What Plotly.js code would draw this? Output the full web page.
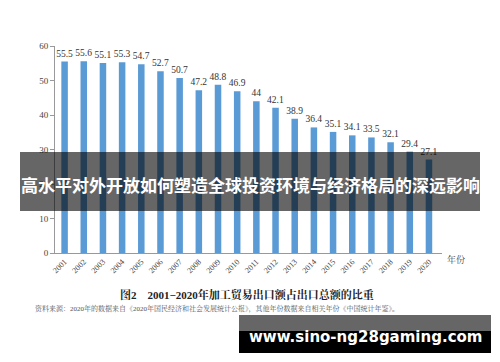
<!DOCTYPE html>
<html><head><meta charset="utf-8">
<script src="https://cdn.plot.ly/plotly-3.0.1.min.js"></script>
<style>html,body{margin:0;padding:0;background:#fff;}#chart{width:500px;height:362px;}</style>
</head><body><div id="chart"></div>
<script>
const years = ['2001','2002','2003','2004','2005','2006','2007','2008','2009','2010','2011','2012','2013','2014','2015','2016','2017','2018','2019','2020'];
const shares = [55.5,55.6,55.1,55.3,54.7,52.7,50.7,47.2,48.8,46.9,44,42.1,38.9,36.4,35.1,34.1,33.5,32.1,29.4,27.1];
const yTicks = [0,10,20,30,40,50,60];
const captionText = '图2　2001−2020年加工贸易出口额占出口总额的比重';
const sourceText = '资料来源：2020年的数据来自《2020年国民经济和社会发展统计公报》，其他年份数据来自相关年份《中国统计年鉴》。';
const bannerText = '高水平对外开放如何塑造全球投资环境与经济格局的深远影响';
const watermarkText = 'www.sino-ng28gaming.com';
const xUnitLabel = '年份';

const serif = '"Liberation Serif", "Noto Serif CJK SC", "Noto Sans CJK SC", serif';
const W = 500, H = 362, L = 55, R = 442, T = 46, B = 253;
const px = x => (x - L) / (R - L);
const py = y => (B - y) / (B - T);

const trace = {
  type: 'bar', x: years, y: shares,
  marker: {color: '#5b9bd5'},
  text: shares.map(String), textposition: 'outside', cliponaxis: false,
  constraintext: 'none',
  textfont: {family: serif, size: 9.5, color: '#333'},
  hoverinfo: 'skip'
};

const layout = {
  width: W, height: H,
  margin: {l: L, r: W - R, t: T, b: H - B},
  paper_bgcolor: '#fff', plot_bgcolor: '#fff',
  showlegend: false,
  bargap: 0.66,
  xaxis: {
    type: 'category', range: [-0.5, 19.68],
    tickangle: -45, tickfont: {family: serif, size: 8, color: '#444'},
    showline: true, linecolor: '#999', linewidth: 1,
    ticks: '', showgrid: false, zeroline: false, fixedrange: true
  },
  yaxis: {
    range: [0, 60], tickvals: yTicks,
    tickfont: {family: serif, size: 9, color: '#444'},
    showline: true, linecolor: '#999', linewidth: 1,
    ticks: 'outside', ticklen: 4, tickcolor: '#999',
    showgrid: false, zeroline: false, fixedrange: true
  },
  shapes: [
    {type: 'rect', xref: 'paper', yref: 'paper', layer: 'above',
     x0: px(20), x1: px(480), y0: py(211), y1: py(152),
     fillcolor: 'rgba(0,0,0,0.6)', line: {width: 0}},
    {type: 'rect', xref: 'paper', yref: 'paper', layer: 'above',
     x0: px(239), x1: px(491), y0: py(353), y1: py(315),
     fillcolor: 'rgba(0,0,0,0.6)', line: {width: 0}},
    {type: 'rect', xref: 'paper', yref: 'paper', layer: 'above',
     x0: px(239), x1: px(491), y0: py(353), y1: py(331),
     fillcolor: '#000', line: {width: 0}}
  ],
  annotations: [
    {text: xUnitLabel, xref: 'paper', yref: 'paper', x: px(445), y: py(259),
     xanchor: 'left', yanchor: 'middle', showarrow: false,
     font: {family: serif, size: 9, color: '#444'}},
    {text: '<b>' + captionText + '</b>', xref: 'paper', yref: 'paper', x: px(247), y: py(294),
     xanchor: 'center', yanchor: 'middle', showarrow: false,
     font: {family: serif, size: 11, color: '#222'}},
    {text: sourceText, xref: 'paper', yref: 'paper', x: px(33), y: py(309),
     xanchor: 'left', yanchor: 'middle', showarrow: false,
     font: {family: serif, size: 7, color: '#555'}},
    {text: '<b>' + bannerText + '</b>', xref: 'paper', yref: 'paper', x: px(250), y: py(184),
     xanchor: 'center', yanchor: 'middle', showarrow: false,
     font: {family: '"Noto Sans CJK SC", sans-serif', size: 17, color: '#fff'}},
    {text: '<b>' + watermarkText + '</b>', xref: 'paper', yref: 'paper', x: px(365), y: py(337),
     xanchor: 'center', yanchor: 'middle', showarrow: false,
     font: {family: '"DejaVu Sans", sans-serif', size: 15, color: '#fff'}}
  ]
};

Plotly.newPlot('chart', [trace], layout, {displayModeBar: false, staticPlot: true});
</script></body></html>
